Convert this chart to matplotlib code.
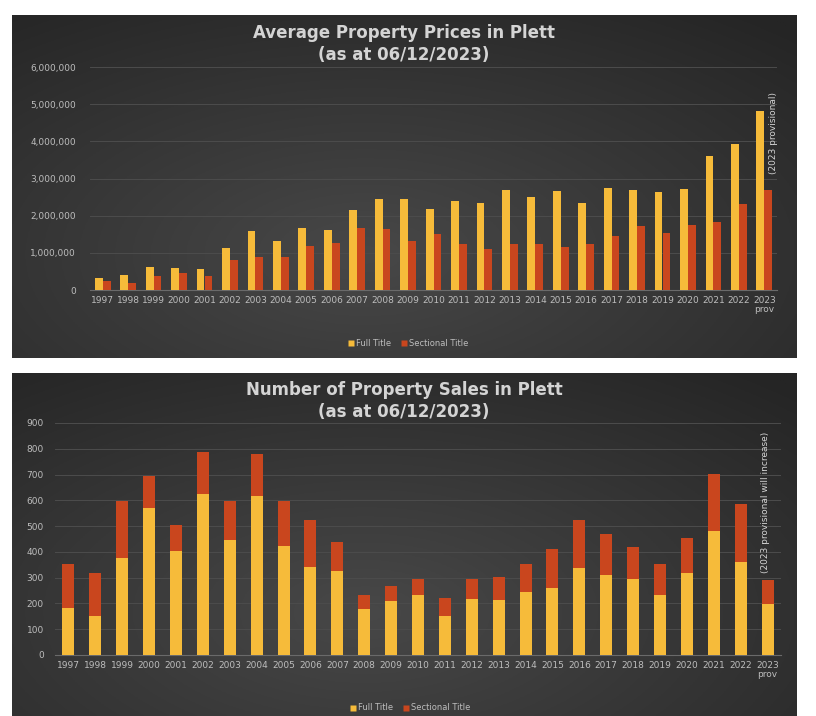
import numpy as np
import matplotlib
matplotlib.use("Agg")
import matplotlib.pyplot as plt
from matplotlib.lines import Line2D
from matplotlib.ticker import FuncFormatter

# ---------------- data ----------------
years = ["1997", "1998", "1999", "2000", "2001", "2002", "2003", "2004", "2005",
         "2006", "2007", "2008", "2009", "2010", "2011", "2012", "2013", "2014",
         "2015", "2016", "2017", "2018", "2019", "2020", "2021", "2022", "2023\nprov"]

price_full = [330000, 400000, 630000, 600000, 560000, 1140000, 1590000, 1320000,
              1660000, 1610000, 2140000, 2440000, 2440000, 2180000, 2390000,
              2350000, 2700000, 2500000, 2670000, 2350000, 2750000, 2700000,
              2640000, 2730000, 3600000, 3920000, 4820000]
price_sect = [240000, 190000, 380000, 470000, 380000, 810000, 890000, 900000,
              1180000, 1270000, 1670000, 1630000, 1320000, 1520000, 1230000,
              1090000, 1230000, 1230000, 1150000, 1240000, 1440000, 1720000,
              1540000, 1750000, 1820000, 2320000, 2690000]

sales_full = [184, 153, 378, 570, 405, 626, 445, 618, 424, 343, 326, 179, 208,
              233, 150, 217, 213, 243, 261, 338, 312, 294, 234, 317, 481, 362, 198]
sales_total = [354, 317, 598, 693, 503, 788, 598, 781, 596, 525, 440, 233, 268,
               296, 220, 296, 303, 353, 413, 524, 470, 418, 353, 453, 702, 585, 292]
sales_sect = [t - f for t, f in zip(sales_total, sales_full)]

series_names = ["Full Title", "Sectional Title"]
title1 = "Average Property Prices in Plett\n(as at 06/12/2023)"
title2 = "Number of Property Sales in Plett\n(as at 06/12/2023)"
note1 = "(2023 provisional)"
note2 = "(2023 provisional will increase)"

# ---------------- style ----------------
W, H = 816, 716
C_FULL = "#f6bb3a"
C_SECT = "#c9461e"
TXT = "#d4d4d4"
TICK = "#bdbdbd"
GRID = "#4c4c4c"

fig = plt.figure(figsize=(W / 100, H / 100), dpi=100)
fig.patch.set_facecolor("white")


def px_rect(x0, y0, x1, y1):
    return [x0 / W, 1 - y1 / H, (x1 - x0) / W, (y1 - y0) / H]


def panel_bg(rect, cx=0.45, cy=0.3):
    bg = fig.add_axes(rect, zorder=0)
    ny, nx = 200, 300
    yy, xx = np.mgrid[0:1:ny * 1j, 0:1:nx * 1j]
    d = np.sqrt(((xx - cx) / 0.8) ** 2 + ((yy - cy) / 0.9) ** 2)
    d = np.clip(d, 0, 1)
    c_in = np.array([0x48, 0x48, 0x48]) / 255
    c_out = np.array([0x25, 0x25, 0x25]) / 255
    img = c_in[None, None, :] * (1 - d[..., None]) + c_out[None, None, :] * d[..., None]
    bg.imshow(img, aspect="auto", origin="lower", extent=[0, 1, 0, 1])
    bg.set_axis_off()


panel_bg(px_rect(12, 15, 797, 358))
panel_bg(px_rect(12, 373, 797, 716))

x = np.arange(len(years))


def style_axes(ax):
    ax.set_facecolor("none")
    for s in ["top", "right", "left"]:
        ax.spines[s].set_visible(False)
    ax.spines["bottom"].set_color("#6a6a6a")
    ax.spines["bottom"].set_linewidth(0.8)
    ax.grid(axis="y", color=GRID, linewidth=0.7)
    ax.set_axisbelow(True)
    ax.tick_params(axis="both", length=0, colors=TICK, labelsize=6.5)
    ax.set_xticks(x)
    ax.set_xticklabels(years, linespacing=1.0)
    ax.set_xlim(-0.5, len(years) - 0.5)


# ---------------- top chart ----------------
ax1 = fig.add_axes(px_rect(90, 67, 777, 290), zorder=2)
style_axes(ax1)
bw = 0.31
ax1.bar(x - bw / 2, price_full, width=bw, color=C_FULL, zorder=3)
ax1.bar(x + bw / 2, price_sect, width=bw, color=C_SECT, zorder=3)
ax1.set_ylim(0, 6000000)
ax1.set_yticks(np.arange(0, 6000001, 1000000))
ax1.yaxis.set_major_formatter(FuncFormatter(lambda v, p: f"{int(v):,}"))
ax1.tick_params(axis="y", pad=10)
ax1.tick_params(axis="x", pad=4)

fig.text(404 / W, 1 - 44 / H, title1, ha="center", va="center", color=TXT,
         fontsize=12, fontweight="bold", linespacing=1.35)
fig.text(774 / W, 1 - 133 / H, note1, rotation=90, ha="center", va="center",
         color=TXT, fontsize=6.5)

handles = [Line2D([], [], marker="s", linestyle="none", markersize=4,
                  markerfacecolor=C_FULL, markeredgecolor="none"),
           Line2D([], [], marker="s", linestyle="none", markersize=4,
                  markerfacecolor=C_SECT, markeredgecolor="none")]
fig.legend(handles, series_names, loc="center", bbox_to_anchor=(408 / W, 1 - 343 / H),
           ncol=2, frameon=False, fontsize=6, labelcolor=TICK, handletextpad=0.2,
           columnspacing=1.2, handlelength=0.8)

# ---------------- bottom chart ----------------
ax2 = fig.add_axes(px_rect(55, 423, 781, 655), zorder=2)
style_axes(ax2)
bw2 = 0.45
ax2.bar(x, sales_full, width=bw2, color=C_FULL, zorder=3)
ax2.bar(x, sales_sect, width=bw2, bottom=sales_full, color=C_SECT, zorder=3)
ax2.set_ylim(0, 900)
ax2.set_yticks(np.arange(0, 901, 100))
ax2.tick_params(axis="y", pad=8)
ax2.tick_params(axis="x", pad=4)

fig.text(404 / W, 1 - 401 / H, title2, ha="center", va="center", color=TXT,
         fontsize=12, fontweight="bold", linespacing=1.35)
fig.text(765 / W, 1 - 502 / H, note2, rotation=90, ha="center", va="center",
         color=TXT, fontsize=6.5)

fig.legend(handles, series_names, loc="center", bbox_to_anchor=(410 / W, 1 - 708 / H),
           ncol=2, frameon=False, fontsize=6, labelcolor=TICK, handletextpad=0.2,
           columnspacing=1.2, handlelength=0.8)

fig.savefig("out.png", dpi=100, facecolor=fig.get_facecolor())
